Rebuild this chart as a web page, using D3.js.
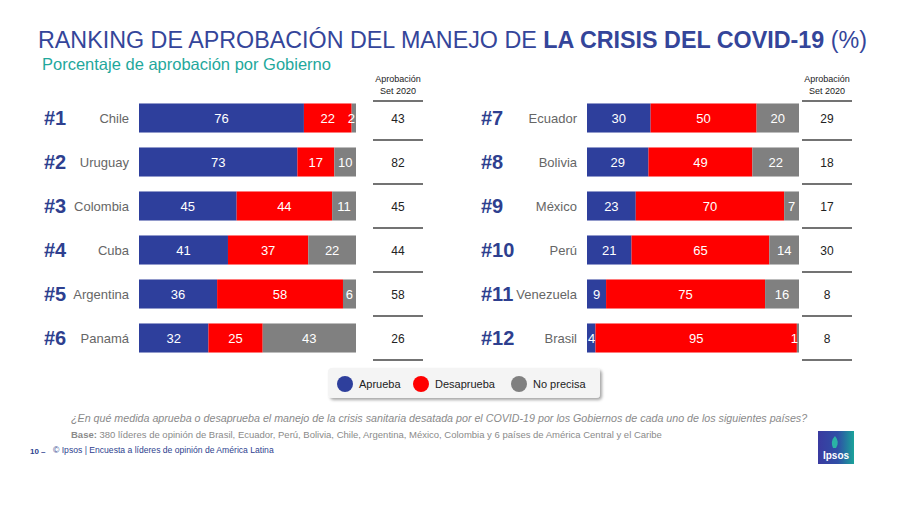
<!DOCTYPE html>
<html><head><meta charset="utf-8">
<script src="https://cdn.jsdelivr.net/npm/d3@7"></script>
<style>body{margin:0;background:#fff;}svg{display:block;font-family:Arial,"Liberation Sans",sans-serif;}</style>
</head><body><svg id="c" width="900" height="505"></svg>
<script>
const leftCountries = ["Chile","Uruguay","Colombia","Cuba","Argentina","Panamá"];
const leftRanks = ["#1","#2","#3","#4","#5","#6"];
const leftAprueba = [76,73,45,41,36,32];
const leftDesaprueba = [22,17,44,37,58,25];
const leftNoPrecisa = [2,10,11,22,6,43];
const leftSet2020 = [43,82,45,44,58,26];

const rightCountries = ["Ecuador","Bolivia","México","Perú","Venezuela","Brasil"];
const rightRanks = ["#7","#8","#9","#10","#11","#12"];
const rightAprueba = [30,29,23,21,9,4];
const rightDesaprueba = [50,49,70,65,75,95];
const rightNoPrecisa = [20,22,7,14,16,1];
const rightSet2020 = [29,18,17,30,8,8];

const seriesNames = ["Aprueba","Desaprueba","No precisa"];
const colors = ["#2e3f9c","#ff0000","#808080"];

const svg = d3.select("#c");
const defs = svg.append("defs");
const f = defs.append("filter").attr("id","sh").attr("x","-10%").attr("y","-30%").attr("width","125%").attr("height","170%");
f.append("feDropShadow").attr("dx",2).attr("dy",2).attr("stdDeviation",1.5).attr("flood-color","#000").attr("flood-opacity",0.35);

// Title
const t = svg.append("text").attr("x",38).attr("y",48).attr("font-size",23.3).attr("fill","#34459a");
t.append("tspan").text("RANKING DE APROBACIÓN DEL MANEJO DE ");
t.append("tspan").attr("font-weight","bold").text("LA CRISIS DEL COVID-19");
t.append("tspan").text(" (%)");
svg.append("text").attr("x",42).attr("y",70).attr("font-size",16.5).attr("fill","#1fa89c").text("Porcentaje de aprobación por Gobierno");

function panel(cfg){
  const rows = cfg.countries.map((c,i)=>({c, rank:cfg.ranks[i], v:[cfg.a[i],cfg.d[i],cfg.n[i]], s:cfg.set[i]}));
  const x = d3.scaleLinear().domain([0,100]).range([cfg.x0,cfg.x1]);
  const y = d3.scaleBand().domain(cfg.countries).range([cfg.y0,cfg.y1]).paddingInner(0.34).paddingOuter(0.17);
  const g = svg.append("g");
  rows.forEach(r=>{
    const yy = y(r.c), h = y.bandwidth();
    let acc = 0;
    r.v.forEach((v,k)=>{
      g.append("rect").attr("x",x(acc)).attr("y",yy).attr("width",x(acc+v)-x(acc)).attr("height",h).attr("fill",colors[k]);
      const cx = (x(acc)+x(acc+v))/2;
      let tx = cx, anchor="middle";
      if (v<=2){ tx = x(acc+v)-1; anchor="end"; }
      if (k===0 && v<=4){ tx = x(acc)+1; anchor="start"; }
      g.append("text").attr("x",tx).attr("y",yy+h/2+5).attr("text-anchor",anchor).attr("font-size",13).attr("fill","#fff").text(v);
      acc += v;
    });
    g.append("text").attr("x",cfg.rankX).attr("y",yy+h/2+7).attr("font-size",20).attr("font-weight","bold").attr("fill","#2e3f8f").text(r.rank);
    g.append("text").attr("x",cfg.x0-10).attr("y",yy+h/2+5).attr("text-anchor","end").attr("font-size",13).attr("fill","#666").text(r.c);
    g.append("text").attr("x",cfg.colX).attr("y",yy+h/2+5).attr("text-anchor","middle").attr("font-size",12).attr("fill","#222").text(r.s);
  });
  g.append("text").attr("x",cfg.colX).attr("y",82).attr("text-anchor","middle").attr("font-size",9).attr("fill","#222").text("Aprobación");
  g.append("text").attr("x",cfg.colX).attr("y",94).attr("text-anchor","middle").attr("font-size",9).attr("fill","#222").text("Set 2020");
  const lineYs = [101].concat(rows.map(r=>y(r.c)+y.bandwidth()+ (y.step()-y.bandwidth())/2));
  lineYs.forEach(ly=>{
    g.append("line").attr("x1",cfg.colX-25).attr("x2",cfg.colX+25).attr("y1",ly).attr("y2",ly).attr("stroke","#444").attr("stroke-width",1.5);
  });
}
panel({countries:leftCountries,ranks:leftRanks,a:leftAprueba,d:leftDesaprueba,n:leftNoPrecisa,set:leftSet2020,
  x0:139,x1:356,y0:96,y1:360,rankX:44,colX:398});
panel({countries:rightCountries,ranks:rightRanks,a:rightAprueba,d:rightDesaprueba,n:rightNoPrecisa,set:rightSet2020,
  x0:587,x1:799,y0:96,y1:360,rankX:481,colX:827});

// Legend
const lg = svg.append("g");
lg.append("rect").attr("x",328).attr("y",368).attr("width",272).attr("height",30).attr("rx",4).attr("fill","#f4f4f4").attr("filter","url(#sh)");
const lx = [345,421,519];
seriesNames.forEach((s,i)=>{
  lg.append("circle").attr("cx",lx[i]).attr("cy",384).attr("r",8).attr("fill",colors[i]);
  lg.append("text").attr("x",lx[i]+14).attr("y",388).attr("font-size",11).attr("fill","#222").text(s);
});

// Footnotes
svg.append("text").attr("x",71).attr("y",422).attr("font-size",10.7).attr("font-style","italic").attr("fill","#8a8a8a")
  .text("¿En qué medida aprueba o desaprueba el manejo de la crisis sanitaria desatada por el COVID-19 por los Gobiernos de cada uno de los siguientes países?");
const b = svg.append("text").attr("x",71).attr("y",438).attr("font-size",9.5).attr("fill","#8a8a8a");
b.append("tspan").attr("font-weight","bold").text("Base:");
b.append("tspan").text(" 380 líderes de opinión de Brasil, Ecuador, Perú, Bolivia, Chile, Argentina, México, Colombia y 6 países de América Central y el Caribe");
svg.append("text").attr("x",30).attr("y",454).attr("font-size",8).attr("font-weight","bold").attr("fill","#2e3f8f").text("10 –");
svg.append("text").attr("x",53).attr("y",453).attr("font-size",8.6).attr("fill","#2e3f8f").text("© Ipsos | Encuesta a líderes de opinión de América Latina");

// Ipsos logo
const lgG = defs.append("linearGradient").attr("id","ig").attr("x1","0").attr("x2","1").attr("y1","0").attr("y2","0");
lgG.append("stop").attr("offset","0").attr("stop-color","#3a3aa0");
lgG.append("stop").attr("offset","0.55").attr("stop-color","#2f4fa6");
lgG.append("stop").attr("offset","1").attr("stop-color","#1aa39a");
svg.append("rect").attr("x",818).attr("y",431).attr("width",36).attr("height",33).attr("fill","url(#ig)");
svg.append("path").attr("d","M835,436 q-5,5 -2,12 l3,0 q4,-6 -1,-12z").attr("fill","#2bb3a5");
svg.append("text").attr("x",836).attr("y",459).attr("text-anchor","middle").attr("font-size",10).attr("font-weight","bold").attr("fill","#fff").text("Ipsos");
</script></body></html>
